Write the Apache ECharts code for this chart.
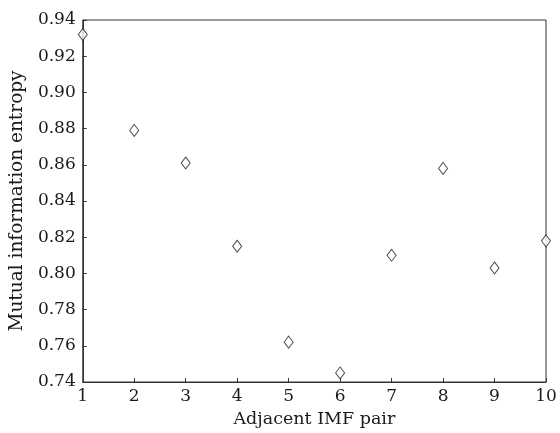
<!DOCTYPE html>
<html><head><meta charset="utf-8">
<script src="https://cdn.jsdelivr.net/npm/echarts@6/dist/echarts.min.js"></script>
<style>html,body{margin:0;padding:0;background:#fff}#c{width:560px;height:433px}</style>
</head><body><div id="c"></div>
<script>
const pairs = [1, 2, 3, 4, 5, 6, 7, 8, 9, 10];
const entropy = [0.932, 0.879, 0.861, 0.815, 0.762, 0.745, 0.810, 0.858, 0.803, 0.818];
const yTicks = {min: 0.74, max: 0.94, step: 0.02};
const xTicks = {min: 1, max: 10, step: 1};

const font = 'DejaVu Serif';
const axisColor = '#333';
const chart = echarts.init(document.getElementById('c'), null, {renderer: 'canvas'});
chart.setOption({
  animation: false,
  grid: {left: 81, top: 20, right: 14, bottom: 47, show: true, borderColor: axisColor, borderWidth: 1, backgroundColor: 'transparent'},
  xAxis: {
    type: 'value', min: xTicks.min, max: xTicks.max, interval: xTicks.step,
    name: 'Adjacent IMF pair', nameLocation: 'middle', nameGap: 28,
    nameTextStyle: {fontFamily: font, fontSize: 17.5, color: '#1a1a1a'},
    axisLine: {show: true, lineStyle: {color: axisColor, width: 1}},
    axisTick: {show: true, inside: true, length: 4, lineStyle: {color: axisColor}},
    axisLabel: {fontFamily: font, fontSize: 17, color: '#1a1a1a', margin: 6},
    splitLine: {show: false}
  },
  yAxis: {
    type: 'value', min: yTicks.min, max: yTicks.max, interval: yTicks.step,
    name: 'Mutual information entropy', nameLocation: 'middle', nameGap: 49,
    nameTextStyle: {fontFamily: font, fontSize: 18.5, color: '#1a1a1a'},
    axisLine: {show: true, lineStyle: {color: axisColor, width: 1}},
    axisTick: {show: true, inside: true, length: 4, lineStyle: {color: axisColor}},
    axisLabel: {fontFamily: font, fontSize: 17, color: '#1a1a1a', margin: 7, formatter: v => v.toFixed(2)},
    splitLine: {show: false}
  },
  series: [{
    type: 'scatter',
    data: pairs.map((p, i) => [p, entropy[i]]),
    symbol: 'diamond', symbolSize: [9, 12],
    itemStyle: {color: '#fff', borderColor: '#222', borderWidth: 1},
    clip: false
  }]
});
</script></body></html>
